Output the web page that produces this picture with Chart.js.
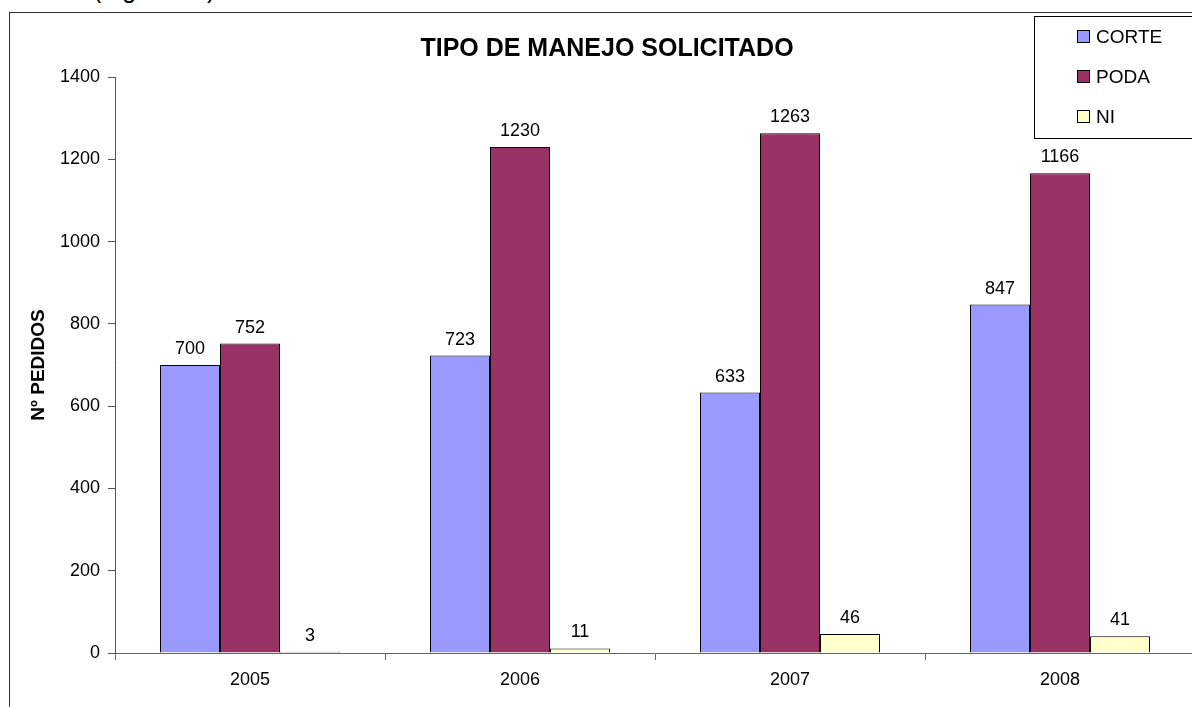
<!DOCTYPE html>
<html>
<head>
<meta charset="utf-8">
<style>
  html, body { margin: 0; padding: 0; background: #fff; overflow: hidden; width: 1192px; height: 707px; }
  #note { position: absolute; left: 93px; top: -23px; font: 25px "Liberation Sans", Arial, sans-serif; line-height: 24px; color: #000; white-space: nowrap; }
  #wrap { position: absolute; left: 0; top: 0; width: 1230px; height: 720px; }
</style>
<script src="https://cdn.jsdelivr.net/npm/chart.js@4.4.1/dist/chart.umd.min.js"></script>
</head>
<body>
<div id="note">(Figura 10)</div>
<div id="wrap"><canvas id="chart-manejo" width="1230" height="720"></canvas></div>
<script>
  // data
  const years = ['2005', '2006', '2007', '2008'];
  const corte = [700, 723, 633, 847];
  const poda = [752, 1230, 1263, 1166];
  const ni = [3, 11, 46, 41];
  const seriesNames = ['CORTE', 'PODA', 'NI'];
  const seriesColors = ['#9999FF', '#993366', '#FFFFCC'];

  const FONT = '"Liberation Sans", Arial, sans-serif';

  // frame, title, value labels and the boxed legend
  const decor = {
    id: 'decor',
    beforeDraw(chart) {
      const c = chart.ctx;
      c.save();
      c.strokeStyle = '#333';
      c.lineWidth = 1;
      c.strokeRect(9.5, 12.5, 1196, 740);
      c.restore();
    },
    afterDraw(chart) {
      const c = chart.ctx;
      c.save();
      c.fillStyle = '#000';
      c.font = 'bold 25px ' + FONT;
      c.textAlign = 'center';
      c.textBaseline = 'middle';
      c.fillText('TIPO DE MANEJO SOLICITADO', 607, 49);

      // value labels above bars
      c.font = '18px ' + FONT;
      c.textBaseline = 'alphabetic';
      chart.data.datasets.forEach((ds, i) => {
        chart.getDatasetMeta(i).data.forEach((bar, j) => {
          c.fillText(String(ds.data[j]), bar.x, bar.y - 11);
        });
      });

      // legend box
      c.fillStyle = '#fff';
      c.fillRect(1034.5, 16.5, 170, 122);
      c.strokeStyle = '#000';
      c.lineWidth = 1;
      c.strokeRect(1034.5, 16.5, 170, 122);
      c.font = '19px ' + FONT;
      c.textAlign = 'left';
      c.textBaseline = 'middle';
      chart.data.datasets.forEach((ds, i) => {
        const y = 37 + i * 40;
        c.fillStyle = ds.backgroundColor;
        c.fillRect(1077.5, y - 6.5, 12, 12);
        c.strokeRect(1077.5, y - 6.5, 12, 12);
        c.fillStyle = '#000';
        c.fillText(ds.label, 1096, y + 1);
      });
      c.restore();
    }
  };

  const ctx = document.getElementById('chart-manejo');
  new Chart(ctx, {
    type: 'bar',
    data: {
      labels: years,
      datasets: [corte, poda, ni].map((vals, i) => ({
        label: seriesNames[i],
        data: vals,
        backgroundColor: seriesColors[i],
        borderColor: '#000',
        borderWidth: 1,
        categoryPercentage: 2 / 3,
        barPercentage: 1
      }))
    },
    options: {
      responsive: false,
      animation: false,
      layout: { padding: { top: 77, right: 35, bottom: 0, left: 0 } },
      plugins: { legend: { display: false }, title: { display: false }, tooltip: { enabled: false } },
      scales: {
        x: {
          afterFit(scale) { scale.height = 67; },
          grid: { offset: true, drawOnChartArea: false, tickLength: 7, color: '#666' },
          border: { color: '#666' },
          ticks: { color: '#000', padding: 9, font: { family: FONT, size: 18 } }
        },
        y: {
          min: 0,
          max: 1400,
          afterFit(scale) { scale.width = 115; },
          grid: { drawOnChartArea: false, tickLength: 7, color: '#555' },
          border: { color: '#555' },
          ticks: {
            stepSize: 200,
            color: '#000',
            padding: 8,
            font: { family: FONT, size: 18 },
            callback: v => String(v)
          },
          title: {
            display: true,
            text: 'Nº PEDIDOS',
            color: '#000',
            padding: { top: 27, bottom: 0 },
            font: { family: FONT, size: 19, weight: 'bold' }
          }
        }
      }
    },
    plugins: [decor]
  });
</script>
</body>
</html>
